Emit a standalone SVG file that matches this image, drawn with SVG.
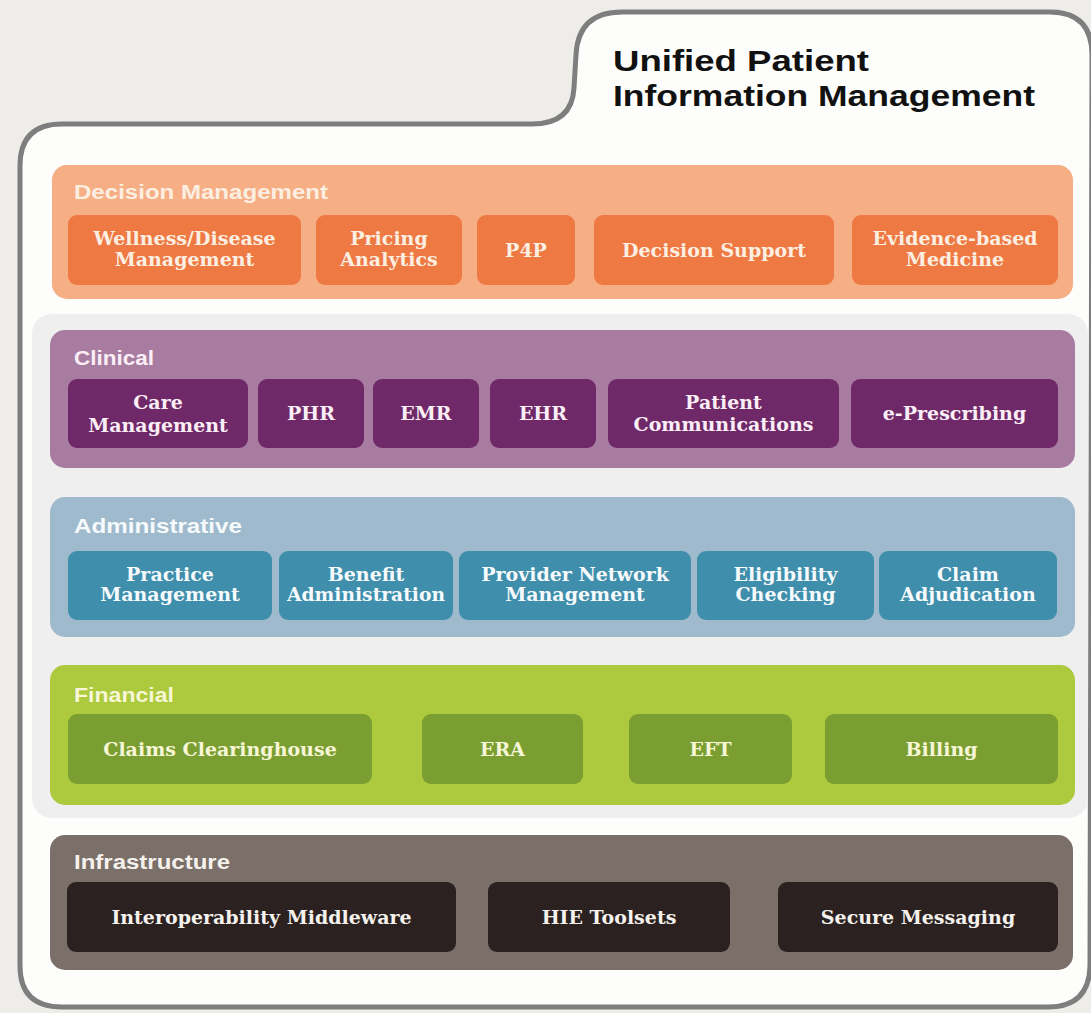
<svg xmlns="http://www.w3.org/2000/svg" width="1091" height="1013" viewBox="0 0 1091 1013">
<style>
.band-label{font-family:"Liberation Sans",Arial,sans-serif;font-weight:bold;font-size:20px}
.bt{font-family:"DejaVu Serif","Liberation Serif",serif;font-weight:bold;font-size:19px;text-anchor:middle}
.title{font-family:"Liberation Sans Narrow","Liberation Sans",Arial,sans-serif;font-weight:bold;font-size:30px;fill:#111}
.dm .band{fill:#f6ae85}.dm .box{fill:#ee7943}.dm text{fill:#fcefe2}
.cl .band{fill:#a87ca0}.cl .box{fill:#6f2968}.cl text{fill:#fbeef6}
.ad .band{fill:#9fbacc}.ad .box{fill:#3f8fac}.ad text{fill:#f6fafc}
.fi .band{fill:#adc93d}.fi .box{fill:#7a9e32}.fi text{fill:#f7f6d6}
.in .band{fill:#7a6f69}.in .box{fill:#2a2120}.in text{fill:#f5f1ec}
</style>
<rect x="0" y="0" width="1091" height="1013" fill="#efedea"/>
<path d="M1092 55 Q1092 12 1050 12 L622 12 Q578 12 576 55 L574 88 Q572 124 532 124 L62 124 Q20 124 20 166 L20 966 Q20 1007 62 1007 L1048 1007 Q1089 1007 1090 966 Z" fill="#fdfdfb" stroke="#7e7e7e" stroke-width="5"/>
<rect x="32" y="314" width="1056" height="504" rx="20" fill="#efefef"/>
<g id="title">
<text class="title" x="613" y="71" textLength="256" lengthAdjust="spacingAndGlyphs">Unified Patient</text>
<text class="title" x="613" y="106" textLength="422" lengthAdjust="spacingAndGlyphs">Information  Management</text>
</g>
<g id="decision-management" class="dm">
<rect class="band" x="52" y="165" width="1021" height="134" rx="15"/>
<text class="band-label" x="74" y="199" textLength="254" lengthAdjust="spacingAndGlyphs">Decision Management</text>
<g id="wellness"><rect class="box" x="68" y="215" width="233" height="70" rx="9"/><text class="bt" x="184.5" y="245">Wellness/Disease</text><text class="bt" x="184.5" y="266">Management</text></g>
<g id="pricing"><rect class="box" x="316" y="215" width="146" height="70" rx="9"/><text class="bt" x="389" y="245">Pricing</text><text class="bt" x="389" y="266">Analytics</text></g>
<g id="p4p"><rect class="box" x="477" y="215" width="98" height="70" rx="9"/><text class="bt" x="526" y="257">P4P</text></g>
<g id="decision-support"><rect class="box" x="594" y="215" width="240" height="70" rx="9"/><text class="bt" x="714" y="257">Decision Support</text></g>
<g id="evidence"><rect class="box" x="852" y="215" width="206" height="70" rx="9"/><text class="bt" x="955" y="245">Evidence-based</text><text class="bt" x="955" y="266">Medicine</text></g>
</g>
<g id="clinical" class="cl">
<rect class="band" x="50" y="330" width="1025" height="138" rx="15"/>
<text class="band-label" x="74" y="365" textLength="80" lengthAdjust="spacingAndGlyphs">Clinical</text>
<g id="care-mgmt"><rect class="box" x="68" y="379" width="180" height="69" rx="9"/><text class="bt" x="158" y="409">Care</text><text class="bt" x="158" y="432">Management</text></g>
<g id="phr"><rect class="box" x="258" y="379" width="106" height="69" rx="9"/><text class="bt" x="311" y="420">PHR</text></g>
<g id="emr"><rect class="box" x="373" y="379" width="106" height="69" rx="9"/><text class="bt" x="426" y="420">EMR</text></g>
<g id="ehr"><rect class="box" x="490" y="379" width="106" height="69" rx="9"/><text class="bt" x="543" y="420">EHR</text></g>
<g id="patient-comm"><rect class="box" x="608" y="379" width="231" height="69" rx="9"/><text class="bt" x="723.5" y="409">Patient</text><text class="bt" x="723.5" y="431">Communications</text></g>
<g id="eprescribing"><rect class="box" x="851" y="379" width="207" height="69" rx="9"/><text class="bt" x="954.5" y="420">e-Prescribing</text></g>
</g>
<g id="administrative" class="ad">
<rect class="band" x="50" y="497" width="1025" height="140" rx="15"/>
<text class="band-label" x="74" y="533" textLength="168" lengthAdjust="spacingAndGlyphs">Administrative</text>
<g id="practice"><rect class="box" x="68" y="551" width="204" height="69" rx="9"/><text class="bt" x="170" y="581">Practice</text><text class="bt" x="170" y="601">Management</text></g>
<g id="benefit"><rect class="box" x="279" y="551" width="174" height="69" rx="9"/><text class="bt" x="366" y="581">Benefit</text><text class="bt" x="366" y="601" textLength="158" lengthAdjust="spacingAndGlyphs">Administration</text></g>
<g id="provider"><rect class="box" x="459" y="551" width="232" height="69" rx="9"/><text class="bt" x="575" y="581">Provider Network</text><text class="bt" x="575" y="601">Management</text></g>
<g id="eligibility"><rect class="box" x="697" y="551" width="177" height="69" rx="9"/><text class="bt" x="785.5" y="581">Eligibility</text><text class="bt" x="785.5" y="601">Checking</text></g>
<g id="claim-adj"><rect class="box" x="879" y="551" width="178" height="69" rx="9"/><text class="bt" x="968" y="581">Claim</text><text class="bt" x="968" y="601">Adjudication</text></g>
</g>
<g id="financial" class="fi">
<rect class="band" x="50" y="665" width="1025" height="140" rx="15"/>
<text class="band-label" x="74" y="702" textLength="100" lengthAdjust="spacingAndGlyphs">Financial</text>
<g id="clearinghouse"><rect class="box" x="68" y="714" width="304" height="70" rx="9"/><text class="bt" x="220" y="756">Claims Clearinghouse</text></g>
<g id="era"><rect class="box" x="422" y="714" width="161" height="70" rx="9"/><text class="bt" x="502.5" y="756">ERA</text></g>
<g id="eft"><rect class="box" x="629" y="714" width="163" height="70" rx="9"/><text class="bt" x="710.5" y="756">EFT</text></g>
<g id="billing"><rect class="box" x="825" y="714" width="233" height="70" rx="9"/><text class="bt" x="941.5" y="756">Billing</text></g>
</g>
<g id="infrastructure" class="in">
<rect class="band" x="50" y="835" width="1023" height="135" rx="15"/>
<text class="band-label" x="74" y="869" textLength="156" lengthAdjust="spacingAndGlyphs">Infrastructure</text>
<g id="interop"><rect class="box" x="67" y="882" width="389" height="70" rx="9"/><text class="bt" x="261.5" y="924">Interoperability Middleware</text></g>
<g id="hie"><rect class="box" x="488" y="882" width="242" height="70" rx="9"/><text class="bt" x="609" y="924">HIE Toolsets</text></g>
<g id="secure-msg"><rect class="box" x="778" y="882" width="280" height="70" rx="9"/><text class="bt" x="918" y="924">Secure Messaging</text></g>
</g>
<g id="connectors"/>
</svg>
